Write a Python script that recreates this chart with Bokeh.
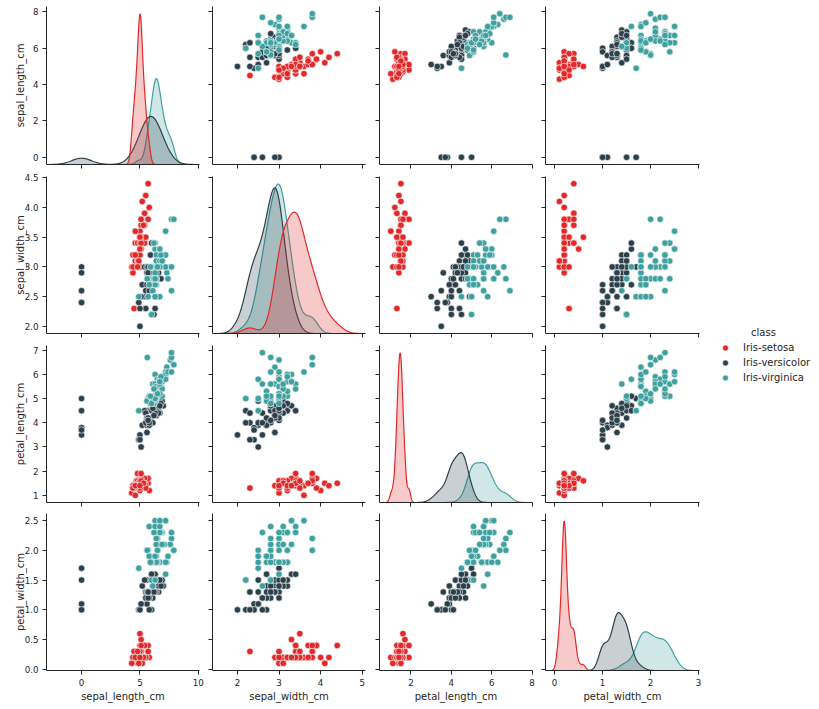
import numpy as np
from bokeh.plotting import figure
from bokeh.models import (Range1d, FixedTicker, Legend, LegendItem, Label,
                          ColumnDataSource, PrintfTickFormatter, CustomLabelingPolicy)
from bokeh.layouts import row, column
from bokeh.embed import file_html
from bokeh.resources import INLINE

# ---------------- data ----------------
classes = ["Iris-setosa", "Iris-versicolor", "Iris-virginica"]
class_colors = ["#e22828", "#2c404b", "#40a0a0"]
class_counts = [50, 50, 50]

sepal_length = [
    5.1, 4.9, 4.7, 4.6, 5.0, 5.4, 4.6, 5.0, 4.4, 4.9, 5.4, 4.8, 4.8, 4.3, 5.8, 5.7, 5.4, 5.1, 5.7, 5.1,
    5.4, 5.1, 4.6, 5.1, 4.8, 5.0, 5.0, 5.2, 5.2, 4.7, 4.8, 5.4, 5.2, 5.5, 4.9, 5.0, 5.5, 4.9, 4.4, 5.1,
    5.0, 4.5, 4.4, 5.0, 5.1, 4.8, 5.1, 4.6, 5.3, 5.0,
    7.0, 6.4, 6.9, 5.5, 6.5, 5.7, 6.3, 4.9, 6.6, 5.2, 5.0, 5.9, 6.0, 6.1, 5.6, 6.7, 5.6, 5.8, 6.2, 5.6,
    5.9, 6.1, 6.3, 6.1, 6.4, 6.6, 6.8, 0.0, 0.0, 0.0, 0.0, 0.0, 5.8, 6.0, 5.4, 6.0, 6.7, 6.3, 5.6, 5.5,
    5.5, 6.1, 5.8, 5.0, 5.6, 5.7, 5.7, 6.2, 5.1, 5.7,
    6.3, 5.8, 7.1, 6.3, 6.5, 7.6, 4.9, 7.3, 6.7, 7.2, 6.5, 6.4, 6.8, 5.7, 5.8, 6.4, 6.5, 7.7, 7.7, 6.0,
    6.9, 5.6, 5.63, 6.3, 6.7, 7.2, 6.2, 6.1, 6.4, 7.2, 7.4, 7.9, 6.4, 6.3, 6.1, 7.7, 6.3, 6.4, 6.0, 6.9,
    6.7, 6.9, 5.8, 6.8, 6.7, 6.7, 6.3, 6.5, 6.2, 5.9]
sepal_width = [
    3.5, 3.0, 3.2, 3.1, 3.6, 3.9, 3.4, 3.4, 2.9, 3.1, 3.7, 3.4, 3.0, 3.0, 4.0, 4.4, 3.9, 3.5, 3.8, 3.8,
    3.4, 3.7, 3.6, 3.3, 3.4, 3.0, 3.4, 3.5, 3.4, 3.2, 3.1, 3.4, 4.1, 4.2, 3.1, 3.2, 3.5, 3.1, 3.0, 3.4,
    3.5, 2.3, 3.2, 3.5, 3.8, 3.0, 3.8, 3.2, 3.7, 3.3,
    3.2, 3.2, 3.1, 2.3, 2.8, 2.8, 3.3, 2.4, 2.9, 2.7, 2.0, 3.0, 2.2, 2.9, 2.9, 3.1, 3.0, 2.7, 2.2, 2.5,
    3.2, 2.8, 2.5, 2.8, 2.9, 3.0, 2.8, 3.0, 2.9, 2.6, 2.4, 2.4, 2.7, 2.7, 3.0, 3.4, 3.1, 2.3, 3.0, 2.5,
    2.6, 3.0, 2.6, 2.3, 2.7, 3.0, 2.9, 2.9, 2.5, 2.8,
    3.3, 2.7, 3.0, 2.9, 3.0, 3.0, 2.5, 2.9, 2.5, 3.6, 3.2, 2.7, 3.0, 2.5, 2.8, 3.2, 3.0, 3.8, 2.6, 2.2,
    3.2, 2.8, 2.8, 2.7, 3.3, 3.2, 2.8, 3.0, 2.8, 3.0, 2.8, 3.8, 2.8, 2.8, 2.6, 3.0, 3.4, 3.1, 3.0, 3.1,
    3.1, 3.1, 2.7, 3.2, 3.3, 3.0, 2.5, 3.0, 3.4, 3.0]
petal_length = [
    1.4, 1.4, 1.3, 1.5, 1.4, 1.7, 1.4, 1.5, 1.4, 1.5, 1.5, 1.6, 1.4, 1.1, 1.2, 1.5, 1.3, 1.4, 1.7, 1.5,
    1.7, 1.5, 1.0, 1.7, 1.9, 1.6, 1.6, 1.5, 1.4, 1.6, 1.6, 1.5, 1.5, 1.4, 1.5, 1.2, 1.3, 1.5, 1.3, 1.5,
    1.3, 1.3, 1.3, 1.6, 1.9, 1.4, 1.6, 1.4, 1.5, 1.4,
    4.7, 4.5, 4.9, 4.0, 4.6, 4.5, 4.7, 3.3, 4.6, 3.9, 3.5, 4.2, 4.0, 4.7, 3.6, 4.4, 4.5, 4.1, 4.5, 3.9,
    4.8, 4.0, 4.9, 4.7, 4.3, 4.4, 4.8, 5.0, 4.5, 3.5, 3.8, 3.7, 3.9, 5.1, 4.5, 4.5, 4.7, 4.4, 4.1, 4.0,
    4.4, 4.6, 4.0, 3.3, 4.2, 4.2, 4.2, 4.3, 3.0, 4.1,
    6.0, 5.1, 5.9, 5.6, 5.8, 6.6, 4.5, 6.3, 5.8, 6.1, 5.1, 5.3, 5.5, 5.0, 5.1, 5.3, 5.5, 6.7, 6.9, 5.0,
    5.7, 4.9, 6.7, 4.9, 5.7, 6.0, 4.8, 4.9, 5.6, 5.8, 6.1, 6.4, 5.6, 5.1, 5.6, 6.1, 5.6, 5.5, 4.8, 5.4,
    5.6, 5.1, 5.1, 5.9, 5.7, 5.2, 5.0, 5.2, 5.4, 5.1]
petal_width = [
    0.2, 0.2, 0.2, 0.2, 0.2, 0.4, 0.3, 0.2, 0.2, 0.1, 0.2, 0.2, 0.1, 0.1, 0.2, 0.4, 0.4, 0.3, 0.3, 0.3,
    0.2, 0.4, 0.2, 0.5, 0.2, 0.2, 0.4, 0.2, 0.2, 0.2, 0.2, 0.4, 0.1, 0.2, 0.1, 0.2, 0.2, 0.1, 0.2, 0.2,
    0.3, 0.3, 0.2, 0.6, 0.4, 0.3, 0.2, 0.2, 0.2, 0.2,
    1.4, 1.5, 1.5, 1.3, 1.5, 1.3, 1.6, 1.0, 1.3, 1.4, 1.0, 1.5, 1.0, 1.4, 1.3, 1.4, 1.5, 1.0, 1.5, 1.1,
    1.8, 1.3, 1.5, 1.2, 1.3, 1.4, 1.4, 1.7, 1.5, 1.0, 1.1, 1.0, 1.2, 1.6, 1.5, 1.6, 1.5, 1.3, 1.3, 1.3,
    1.2, 1.4, 1.2, 1.0, 1.3, 1.2, 1.3, 1.3, 1.1, 1.3,
    2.5, 1.9, 2.1, 1.8, 2.2, 2.1, 1.7, 1.8, 1.8, 2.5, 2.0, 1.9, 2.1, 2.0, 2.4, 2.3, 1.8, 2.2, 2.3, 1.5,
    2.3, 2.0, 2.0, 1.8, 2.1, 1.8, 1.8, 1.8, 2.1, 1.6, 1.9, 2.0, 2.2, 1.5, 1.4, 2.3, 2.4, 1.8, 1.8, 2.1,
    2.4, 2.3, 1.9, 2.3, 2.5, 2.3, 1.9, 2.0, 2.3, 1.8]

variables = ["sepal_length_cm", "sepal_width_cm", "petal_length_cm", "petal_width_cm"]

# axis limits (column variable on x, row variable on y)
x_limits = [(-3.0, 10.1), (1.40, 5.08), (0.44, 8.02), (-0.19, 3.02)]
y_limits = [(-0.395, 8.295), (1.88, 4.52), (0.705, 7.195), (-0.02, 2.62)]

x_tick_values = [[0, 5, 10], [2, 3, 4, 5], [2, 4, 6, 8], [0, 1, 2, 3]]
x_tick_labels = [["0", "5", "10"], ["2", "3", "4", "5"], ["2", "4", "6", "8"], ["0", "1", "2", "3"]]
y_tick_values = [[0, 2, 4, 6, 8], [2.0, 2.5, 3.0, 3.5, 4.0, 4.5],
                 [1, 2, 3, 4, 5, 6, 7], [0.0, 0.5, 1.0, 1.5, 2.0, 2.5]]
y_tick_labels = [["0", "2", "4", "6", "8"], ["2.0", "2.5", "3.0", "3.5", "4.0", "4.5"],
                 ["1", "2", "3", "4", "5", "6", "7"], ["0.0", "0.5", "1.0", "1.5", "2.0", "2.5"]]
y_formats = ["%d", "%.1f", "%d", "%.1f"]
legend_title = "class"

# ---------------- derived ----------------
columns = [sepal_length, sepal_width, petal_length, petal_width]
species = []
for cl, n in zip(classes, class_counts):
    species += [cl] * n
color_of = dict(zip(classes, class_colors))
src_data = {v: c for v, c in zip(variables, columns)}
src_data["color"] = [color_of[s] for s in species]
src = ColumnDataSource(src_data)
first_index = [species.index(cl) for cl in classes]

N = len(species)


def kde_curves(vals):
    vals = np.asarray(vals, dtype=float)
    sp = np.asarray(species)
    out = []
    for cl in classes:
        d = vals[sp == cl]
        n = len(d)
        bw = d.std(ddof=1) * n ** (-1 / 5)
        g = np.linspace(d.min() - 3 * bw, d.max() + 3 * bw, 200)
        dens = np.exp(-0.5 * ((g[:, None] - d[None, :]) / bw) ** 2).sum(1) / (n * bw * np.sqrt(2 * np.pi))
        dens *= n / N
        out.append((g, dens))
    return out


kdes = [kde_curves(c) for c in columns]
kde_max = [max(d.max() for _, d in k) for k in kdes]

# ---------------- layout geometry ----------------
col_left = [46, 7, 7, 7]
col_frame = [153, 153, 153, 154]
col_right = [6, 7, 6, 4]
row_top = [6, 6, 6, 6]
row_frame = [158, 157, 157, 157]
row_bottom = [6, 6, 5, 39]
ylab_standoff = [4, -4, 4, -4]

INK = "#262626"
FONT = "DejaVu Sans"

hide_all = CustomLabelingPolicy(code="""
for (const i of Array.from(indices)) indices.unset(i)
return indices
""")


def style_axis(ax, ticks, labels, fmt, show):
    ax.ticker = FixedTicker(ticks=ticks)
    ax.formatter = PrintfTickFormatter(format=fmt)
    ax.major_label_overrides = {t: l for t, l in zip(ticks, labels)}
    ax.axis_line_color = INK
    ax.axis_line_width = 1
    ax.major_tick_line_color = INK
    ax.major_tick_line_width = 1
    ax.major_tick_out = 4
    ax.major_tick_in = 0
    ax.minor_tick_out = 0
    ax.minor_tick_in = 0
    ax.major_label_text_font = FONT
    ax.major_label_text_color = INK
    if show:
        ax.major_label_text_font_size = "8.7px"
        ax.major_label_standoff = 4
    else:
        ax.major_label_text_font_size = "0px"
        ax.major_label_standoff = 0
        ax.major_label_policy = hide_all
    ax.axis_label_text_font = FONT
    ax.axis_label_text_font_size = "10px"
    ax.axis_label_text_font_style = "normal"
    ax.axis_label_text_color = INK


rows = []
for r in range(4):
    figs = []
    for c in range(4):
        p = figure(frame_width=col_frame[c], frame_height=row_frame[r],
                   min_border_left=col_left[c], min_border_right=col_right[c],
                   min_border_top=row_top[r], min_border_bottom=row_bottom[r],
                   x_range=Range1d(*x_limits[c]), y_range=Range1d(*y_limits[r]),
                   toolbar_location=None, output_backend="svg", title=None)
        p.outline_line_color = None
        p.xgrid.visible = False
        p.ygrid.visible = False
        style_axis(p.xaxis[0], x_tick_values[c], x_tick_labels[c], "%d", r == 3)
        style_axis(p.yaxis[0], y_tick_values[r], y_tick_labels[r], y_formats[r], c == 0)
        if r == 3:
            p.xaxis.axis_label = variables[c]
            p.xaxis.axis_label_standoff = 2
        if c == 0:
            p.yaxis.axis_label = variables[r]
            p.yaxis.axis_label_standoff = ylab_standoff[r]
        if r == c:
            p.extra_y_ranges = {"kde": Range1d(0, kde_max[c] * 1.05)}
            for k in reversed(range(len(classes))):
                g, d = kdes[c][k]
                xs = np.concatenate([[g[0]], g, [g[-1]]])
                ys = np.concatenate([[0.0], d, [0.0]])
                p.patch(xs, ys, fill_color=class_colors[k], fill_alpha=0.25,
                        line_color=class_colors[k], line_width=1.2, y_range_name="kde")
        else:
            p.scatter(x=variables[c], y=variables[r], source=src, size=6.5,
                      fill_color="color", line_color="white", line_width=0.6)
        figs.append(p)
    rows.append(row(*figs))

grid = column(*rows)

# ---------------- legend panel ----------------
lf = figure(frame_width=116, frame_height=709, min_border=0,
            x_range=Range1d(-100, -99), y_range=Range1d(-100, -99),
            toolbar_location=None, output_backend="svg", title=None)
lf.axis.visible = False
lf.xgrid.visible = False
lf.ygrid.visible = False
lf.outline_line_color = None
proxy = lf.scatter(x=variables[0], y=variables[1], source=src, size=7,
                   fill_color="color", line_color="white", line_width=0.6)
items = [LegendItem(label=cl, renderers=[proxy], index=i0) for cl, i0 in zip(classes, first_index)]
leg = Legend(items=items, location=(13, 324), padding=0, margin=0, spacing=0,
             glyph_width=18, glyph_height=15, label_height=15, label_standoff=9,
             border_line_color=None, background_fill_alpha=0,
             label_text_font=FONT, label_text_font_size="10px", label_text_color=INK)
lf.add_layout(leg)
lf.add_layout(Label(x=60, y=709 - 331.7, x_units="screen", y_units="screen", text=legend_title,
                    text_align="center", text_baseline="middle", text_font=FONT,
                    text_font_size="10px", text_color=INK))

layout = row(grid, lf)
open("out.html", "w").write(file_html(layout, INLINE))
